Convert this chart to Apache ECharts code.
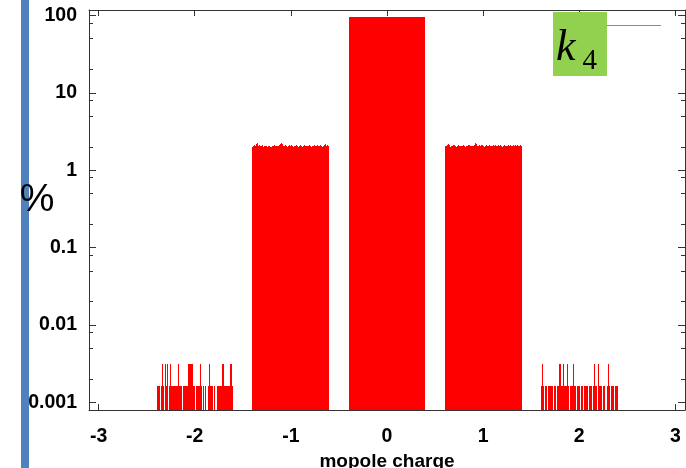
<!DOCTYPE html>
<html>
<head>
<meta charset="utf-8">
<script src="https://cdn.jsdelivr.net/npm/echarts@6/dist/echarts.min.js"></script>
<style>
html,body{margin:0;padding:0;background:#fff;}
#chart{width:686px;height:468px;}
</style>
</head>
<body>
<div id="chart"></div>
<script>
// ---- data (percent per histogram bin, bin width 0.01) ----
const binWidth = 0.01;
const peakCenters = [-2, -1, 0, 1, 2];

const peakM2 = [
  0,0.0016,0.0016,0.0016,0,0.0016,0.0031,0.0016,0,0.0031,
  0.0016,0.0031,0,0.0016,0.0031,0.0016,0.0016,0.0016,0.0016,0.0016,
  0.0016,0,0.0016,0.0031,0.0016,0.0016,0.0016,0,0.0016,0.0016,
  0.0016,0.0016,0.0016,0.0031,0.0031,0.0031,0.0031,0.0031,0.0016,0.0016,
  0,0.0016,0.0016,0.0016,0.0016,0.0031,0.0016,0.0016,0,0.0016,
  0,0.0016,0,0,0.0016,0.0031,0.0016,0.0016,0.0016,0,
  0.0016,0,0,0.0016,0.0016,0.0016,0.0016,0.0016,0.0031,0.0031,
  0.0016,0.0016,0,0.0016,0.0016,0.0016,0.0016,0.0031,0.0031,0.0016
];
const peakM1 = [
  2.02,2.05,2.10,2.04,2.18,2.22,2.08,2.12,2.03,2.06,
  2.10,2.01,2.05,2.08,2.03,2.00,2.07,2.04,1.98,2.02,
  2.06,2.03,2.09,2.05,2.01,2.04,2.07,2.03,2.12,2.18,
  2.24,2.15,2.08,2.05,2.11,2.07,2.02,2.06,2.09,2.04,
  2.10,2.03,1.99,2.05,2.08,2.13,2.06,2.02,2.07,2.04,
  2.10,2.05,2.01,2.06,2.12,2.08,2.03,2.07,2.05,2.11,
  2.04,2.02,2.08,2.05,2.10,2.06,2.03,2.09,2.04,2.07,
  2.12,2.05,2.02,2.08,2.11,2.06,2.15,2.04,2.09,2.05
];
const peak0 = [
  94.9,95.2,94.7,95.0,95.3,94.8,95.1,94.6,95.0,95.2,
  94.8,95.1,95.4,94.9,95.0,94.7,95.2,95.0,94.8,95.1,
  95.3,94.9,95.0,95.2,94.6,95.1,94.9,95.0,95.3,94.8,
  95.0,95.2,94.9,95.1,94.7,95.0,95.3,94.9,95.1,95.0,
  94.8,95.2,95.0,94.9,95.1,95.3,94.7,95.0,95.2,94.9,
  95.1,94.8,95.0,95.2,94.9,95.1,95.0,94.7,95.3,95.0,
  94.9,95.1,95.2,94.8,95.0,95.1,94.9,95.3,95.0,94.8,
  95.2,95.0,94.9,95.1,94.7,95.0,95.2,94.9,95.1,95.0
];
const peakP1 = [
  2.05,2.08,2.14,2.20,2.10,2.06,2.02,2.08,2.04,2.09,
  2.12,2.05,2.01,2.07,2.10,2.04,2.08,2.03,2.06,2.11,
  2.05,2.02,2.07,2.04,2.09,2.13,2.06,2.03,2.08,2.05,
  2.10,2.04,2.27,2.15,2.08,2.06,2.12,2.04,2.09,2.14,
  2.05,2.02,2.08,2.11,2.06,2.03,2.10,2.07,2.04,2.08,
  2.12,2.05,2.09,2.03,2.06,2.10,2.04,2.08,2.13,2.06,
  2.02,2.07,2.11,2.05,2.08,2.04,2.10,2.06,2.12,2.03,
  2.07,2.09,2.05,2.11,2.06,2.14,2.08,2.04,2.10,2.06
];
const peakP2 = [
  0.0016,0.0031,0.0016,0,0.0016,0.0016,0,0,0.0016,0.0016,
  0.0016,0.0016,0.0016,0,0.0016,0.0016,0,0.0016,0.0016,0.0031,
  0.0031,0.0016,0.0016,0.0031,0.0016,0.0016,0.0016,0.0031,0.0016,0,
  0.0016,0.0016,0.0016,0.0016,0.0031,0.0016,0.0016,0,0.0016,0.0016,
  0.0016,0,0.0016,0.0016,0,0.0016,0.0016,0.0016,0.0016,0,
  0.0016,0.0016,0.0016,0,0.0016,0.0031,0.0016,0.0016,0,0.0031,
  0.0016,0.0016,0.0016,0.0016,0,0.0016,0.0016,0,0,0.0016,
  0.0031,0.0016,0,0.0016,0.0016,0.0016,0,0.0016,0.0016,0.0016
];
const peaks = [peakM2, peakM1, peak0, peakP1, peakP2];

const xTicks = [-3, -2, -1, 0, 1, 2, 3];
const yTickValues = [0.001, 0.01, 0.1, 1, 10, 100];
const yTickLabels = ['0.001', '0.01', '0.1', '1', '10', '100'];
const yMinorValues = [0.002,0.005,0.008,0.02,0.05,0.08,0.2,0.5,0.8,2,5,8,20,50,80];
const xRange = [-3.1, 3.1];
const yRange = [0.000794, 117.5];
const xName = 'mopole charge';
const yName = '%';

// ---- build ----
const yMinLog = Math.log10(yRange[0]);
const yMaxLog = Math.log10(yRange[1]);
const majorLogs = yTickValues.map(v => Math.log10(v));
const minorLogs = yMinorValues.map(v => Math.log10(v));

const seriesData = [];
peaks.forEach((arr, p) => {
  const n = arr.length;
  arr.forEach((v, i) => {
    if (v > 0) {
      const x = peakCenters[p] + (i - (n - 1) / 2) * binWidth;
      seriesData.push([x, Math.log10(v)]);
    }
  });
});

const lineColor = '#333';
const labelFont = {fontFamily: 'Liberation Sans, Arial, sans-serif', fontWeight: 'bold', fontSize: 19.5, color: '#000'};

function yAxisDef(pos, major, labels) {
  return {
    type: 'value', position: pos, min: yMinLog, max: yMaxLog,
    splitLine: {show: false},
    axisLine: {show: major, onZero: false, lineStyle: {color: lineColor, width: 1}},
    axisTick: {show: true, inside: true, length: major ? 7 : 4,
      customValues: major ? majorLogs : minorLogs,
      lineStyle: {color: lineColor, width: 1}},
    axisLabel: labels ? Object.assign({
      show: true, customValues: majorLogs, margin: 12,
      formatter: v => yTickLabels[Math.round(v) + 3]
    }, labelFont) : {show: false}
  };
}

const chart = echarts.init(document.getElementById('chart'), null, {renderer: 'canvas'});
chart.setOption({
  animation: false,
  backgroundColor: '#fff',
  grid: {left: 89, top: 10, width: 596, height: 400, containLabel: false, outerBoundsMode: 'none'},
  xAxis: [
    {
      type: 'value', position: 'bottom', min: xRange[0], max: xRange[1],
      splitLine: {show: false},
      axisLine: {show: true, onZero: false, lineStyle: {color: lineColor, width: 1}},
      axisTick: {show: true, inside: true, length: 6, customValues: xTicks, lineStyle: {color: lineColor}},
      axisLabel: Object.assign({show: true, customValues: xTicks, margin: 17}, labelFont),
      name: xName, nameLocation: 'middle', nameGap: 41,
      nameTextStyle: {fontFamily: 'Liberation Sans, Arial, sans-serif', fontWeight: 'bold', fontSize: 19, color: '#000'}
    },
    {
      type: 'value', position: 'top', min: xRange[0], max: xRange[1],
      splitLine: {show: false},
      axisLine: {show: true, onZero: false, lineStyle: {color: lineColor, width: 1}},
      axisTick: {show: true, inside: true, length: 6, customValues: xTicks, lineStyle: {color: lineColor}},
      axisLabel: {show: false}
    }
  ],
  yAxis: [
    yAxisDef('left', true, true),
    yAxisDef('left', false, false),
    yAxisDef('right', true, false),
    yAxisDef('right', false, false)
  ],
  series: [{
    type: 'custom',
    xAxisIndex: 0, yAxisIndex: 0,
    data: seriesData,
    clip: true,
    renderItem: function (params, api) {
      const x = api.value(0), v = api.value(1);
      const p0 = api.coord([x - binWidth / 2, yMinLog]);
      const p1 = api.coord([x + binWidth / 2, v]);
      const left = Math.round(p0[0]);
      const right = Math.max(Math.round(p1[0]), left + 1);
      const top = Math.round(p1[1]);
      const bottom = Math.round(p0[1]);
      return {
        type: 'rect',
        shape: {x: left, y: top, width: right - left, height: bottom - top},
        style: {fill: '#ff0000'}
      };
    }
  }],
  graphic: [
    {type: 'rect', left: 21, top: 0, shape: {width: 8, height: 468}, style: {fill: '#4F81BD'}, z: 1},
    {type: 'text', x: 37, y: 200, z: 2,
      style: {text: yName, fontFamily: 'Liberation Sans, Arial, sans-serif', fontSize: 39,
        fill: '#000', align: 'center', verticalAlign: 'middle'}},
    {type: 'rect', shape: {x: 553, y: 12, width: 54, height: 64}, style: {fill: '#92D050'}, z: 5},
    {type: 'rect', shape: {x: 607, y: 25, width: 54, height: 1}, style: {fill: '#ff5a5a'}, z: 5},
    {type: 'text', x: 556, y: 48.5, z: 6,
      style: {text: 'k', fontFamily: 'Liberation Serif, Times New Roman, serif', fontStyle: 'italic',
        fontSize: 44, fill: '#000', align: 'left', verticalAlign: 'middle'}},
    {type: 'text', x: 582.5, y: 61, z: 6,
      style: {text: '4', fontFamily: 'Liberation Serif, Times New Roman, serif',
        fontSize: 29, fill: '#000', align: 'left', verticalAlign: 'middle'}}
  ]
});
</script>
</body>
</html>
